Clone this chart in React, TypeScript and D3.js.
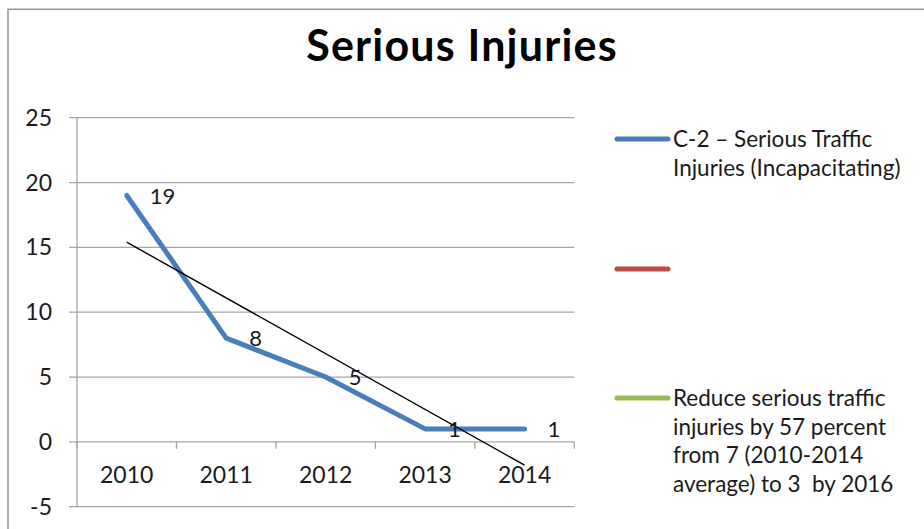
import React from "react";
import * as d3 from "d3";

const years = ["2010", "2011", "2012", "2013", "2014"];
const injuries = [19, 8, 5, 1, 1];
const yTicks = [-5, 0, 5, 10, 15, 20, 25];
const legendBlue = ["C-2 – Serious Traffic", "Injuries (Incapacitating)"];
const legendRed: string[] = [];
const legendGreen = [
  "Reduce serious traffic",
  "injuries by 57 percent",
  "from 7 (2010-2014",
  "average) to 3  by 2016",
];

const W = 924;
const H = 529;
const FONT = "Lato, 'Open Sans', sans-serif";
const GRID = "#a6a6a6";

export default function App() {
  const x = d3.scaleBand<string>().domain(years).range([77, 574.3]);
  const y = d3.scaleLinear().domain([-5, 25]).range([506.7, 117.7]);
  const cx = (d: string) => (x(d) as number) + x.bandwidth() / 2;

  const pts: [number, number][] = years.map((d, i) => [cx(d), y(injuries[i])]);
  const line = d3.line();

  // linear trend (least squares)
  const n = injuries.length;
  const xs = injuries.map((_, i) => i + 1);
  const mx = d3.mean(xs) as number;
  const my = d3.mean(injuries) as number;
  const slope =
    d3.sum(xs.map((v, i) => (v - mx) * (injuries[i] - my))) /
    d3.sum(xs.map((v) => (v - mx) * (v - mx)));
  const icpt = my - slope * mx;
  const t0 = icpt + slope * 1;
  const t1 = icpt + slope * n;

  const bounds = [x.range()[0], ...years.map((d) => (x(d) as number) + x.bandwidth())];

  const legendItems = [
    { color: "#4a7ebb", y: 139, lines: legendBlue },
    { color: "#be4b48", y: 269, lines: legendRed },
    { color: "#98b954", y: 398, lines: legendGreen },
  ];

  return (
    <svg width={W} height={H} style={{ position: "absolute", left: 0, top: 0, background: "#fff" }}>
      <rect x={0} y={0} width={W} height={H} fill="#fff" />
      <rect x={8} y={9.3} width={W + 20} height={H + 20} fill="none" stroke="#9a9a9a" strokeWidth={1.6} />
      <text
        x={462}
        y={61}
        textAnchor="middle"
        fontFamily={FONT}
        fontWeight={700}
        fontSize={43}
        letterSpacing={1.2}
        fill="#000"
      >
        Serious Injuries
      </text>

      {/* gridlines */}
      {yTicks.map((t) => (
        <g key={t}>
          <line x1={69} x2={574.3} y1={y(t)} y2={y(t)} stroke={GRID} strokeWidth={1.3} />
          <text x={52} y={y(t) + 8} textAnchor="end" fontFamily={FONT} fontSize={23} fill="#1a1a1a">
            {t}
          </text>
        </g>
      ))}
      {/* y axis */}
      <line x1={77} x2={77} y1={y(25)} y2={y(-5)} stroke={GRID} strokeWidth={1.3} />
      {/* category ticks at 0 */}
      {bounds.map((b, i) => (
        <line key={i} x1={b} x2={b} y1={y(0)} y2={y(0) + 7} stroke={GRID} strokeWidth={1.3} />
      ))}
      {years.map((d) => (
        <text key={d} x={cx(d)} y={483} textAnchor="middle" fontFamily={FONT} fontSize={23} fill="#1a1a1a">
          {d}
        </text>
      ))}

      {/* series */}
      <path
        d={line(pts) as string}
        fill="none"
        stroke="#4a7ebb"
        strokeWidth={5}
        strokeLinejoin="round"
        strokeLinecap="round"
      />
      <line
        x1={cx(years[0])}
        x2={cx(years[n - 1])}
        y1={y(t0)}
        y2={y(t1)}
        stroke="#000"
        strokeWidth={1.4}
      />
      {pts.map((p, i) => (
        <text key={i} x={p[0] + 23} y={p[1] + 8} fontFamily={FONT} fontSize={22} fill="#1a1a1a">
          {injuries[i]}
        </text>
      ))}

      {/* legend */}
      {legendItems.map((it, k) => (
        <g key={k}>
          <line x1={617} x2={668} y1={it.y} y2={it.y} stroke={it.color} strokeWidth={5} strokeLinecap="round" />
          {it.lines.map((s, j) => (
            <text
              key={j}
              x={673}
              y={it.y + 8 + j * 28.5}
              fontFamily={FONT}
              fontSize={22.5}
              fill="#1a1a1a"
              style={{ whiteSpace: "pre" }}
            >
              {s}
            </text>
          ))}
        </g>
      ))}
    </svg>
  );
}
